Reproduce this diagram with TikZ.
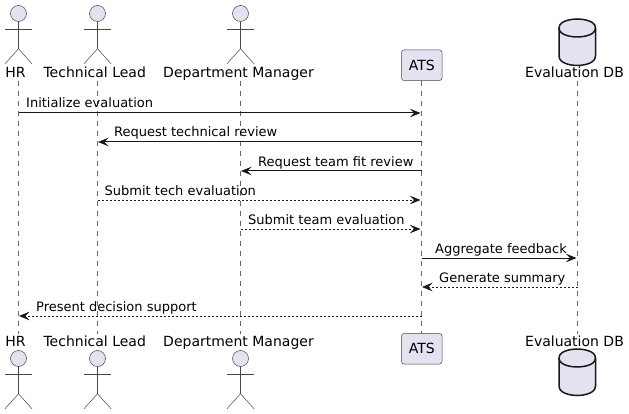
\documentclass[tikz,border=0pt]{standalone}
\usepackage{fontspec}
\setmainfont{DejaVu Sans}
\usetikzlibrary{arrows.meta}
\definecolor{partfill}{HTML}{E2E2F0}
\definecolor{ink}{HTML}{181818}
\tikzset{
  x=1pt,y=-1pt,
  lifeline/.style={draw=ink!65!white,line width=0.5pt,dash pattern=on 5pt off 5pt},
  figure/.style={draw=ink!80!white,line width=0.5pt},
  head/.style={circle,draw=ink!80!white,line width=0.5pt,fill=partfill,minimum size=16pt,inner sep=0pt},
  partname/.style={anchor=base,inner sep=0pt,font=\fontsize{14}{16}\selectfont,text=black},
  msgtext/.style={anchor=base west,inner sep=0pt,font=\fontsize{13}{15}\selectfont,text=black},
  atsbox/.style={draw=ink!80!white,line width=0.5pt,fill=partfill,rounded corners=2.5pt,minimum width=40.5pt,minimum height=30.5pt,inner sep=0pt,font=\fontsize{14}{16}\selectfont},
  syncmsg/.style={draw=ink,line width=1pt,-{Stealth[length=10.5pt,width=8.5pt,inset=4pt]}},
  replymsg/.style={draw=ink,line width=0.8pt,dash pattern=on 2pt off 2pt,-{Stealth[length=10.5pt,width=8.5pt,inset=4pt]}},
}
\newcommand{\stickman}[3]{% name, x, head y
  \node[head] (#1) at (#2,#3) {};
  \draw[figure] (#1.south) -- ++(0,27) coordinate (#1hip);
  \draw[figure] (#2-13.5,#3+15.5) -- (#2+13.5,#3+15.5);
  \draw[figure] (#1hip) -- ++(-13.5,15);
  \draw[figure] (#1hip) -- ++(13.5,15);
}
\newcommand{\dbcan}[2]{% x, top y
  \draw[ink,line width=1.5pt,fill=partfill] (#1-18.25,#2+9) .. controls (#1-18.25,#2) and (#1,#2) .. (#1,#2) .. controls (#1,#2) and (#1+18.25,#2) .. (#1+18.25,#2+9) -- (#1+18.25,#2+37) .. controls (#1+18.25,#2+46.5) and (#1,#2+46.5) .. (#1,#2+46.5) .. controls (#1,#2+46.5) and (#1-18.25,#2+46.5) .. (#1-18.25,#2+37) -- cycle;
  \draw[ink,line width=1.5pt] (#1-18.25,#2+9) .. controls (#1-18.25,#2+18) and (#1,#2+18) .. (#1,#2+18) .. controls (#1,#2+18) and (#1+18.25,#2+18) .. (#1+18.25,#2+9);
}
\begin{document}
\begin{tikzpicture}
\useasboundingbox (0,0) rectangle (629,414);
% lifelines
\foreach \n/\x in {hr/18.5,tl/97.5,dm/240.5,ats/421.5,db/577.5}{
  \coordinate (\n-top) at (\x,81);
  \coordinate (\n-bot) at (\x,333.5);
  \draw[lifeline] (\n-top) -- (\n-bot);
}
% top participants
\stickman{hrT}{18.5}{13.5}
\stickman{tlT}{97.5}{13.5}
\stickman{dmT}{240.5}{13.5}
\node[atsbox] (atsT) at (421.75,65.25) {ATS};
\dbcan{577.25}{19}
\node[partname] (hrTn) at (15.5,78) {HR};
\node[partname] (tlTn) at (94.7,78) {Technical Lead};
\node[partname] (dmTn) at (238.5,78) {Department Manager};
\node[partname] (dbTn) at (574.5,78) {Evaluation DB};
% bottom participants
\node[partname] (hrBn) at (15.5,346) {HR};
\node[partname] (tlBn) at (94.7,346) {Technical Lead};
\node[partname] (dmBn) at (238.5,346) {Department Manager};
\node[partname] (dbBn) at (574.5,346) {Evaluation DB};
\stickman{hrB}{18.5}{358.5}
\stickman{tlB}{97.5}{358.5}
\stickman{dmB}{240.5}{358.5}
\node[atsbox] (atsB) at (421.75,348.75) {ATS};
\dbcan{577.25}{349}
% messages
\foreach \n/\x in {hr/18.5,tl/97.5,dm/240.5,ats/421.5,db/577.5}{
  \foreach \i/\y in {1/113,2/142,3/171,4/200,5/229,6/258,7/287,8/316}{
    \coordinate (\n-m\i) at (\x,\y);
  }
}
\draw[syncmsg] (hr-m1) -- ([xshift=-1pt]ats-m1);
\node[msgtext] (t1) at (26,107.7) {Initialize evaluation};
\draw[syncmsg] (ats-m2) -- ([xshift=0.5pt]tl-m2);
\node[msgtext] (t2) at (114,136.7) {Request technical review};
\draw[syncmsg] (ats-m3) -- ([xshift=0.5pt]dm-m3);
\node[msgtext] (t3) at (258,166.3) {Request team fit review};
\draw[replymsg] (tl-m4) -- ([xshift=-1pt]ats-m4);
\node[msgtext] (t4) at (104.5,195.3) {Submit tech evaluation};
\draw[replymsg] (dm-m5) -- ([xshift=-1pt]ats-m5);
\node[msgtext] (t5) at (248,224.3) {Submit team evaluation};
\draw[syncmsg] (ats-m6) -- ([xshift=-1pt]db-m6);
\node[msgtext] (t6) at (435,253.3) {Aggregate feedback};
\draw[replymsg] (db-m7) -- ([xshift=0.5pt]ats-m7);
\node[msgtext] (t7) at (439,282.3) {Generate summary};
\draw[replymsg] (ats-m8) -- ([xshift=0.5pt]hr-m8);
\node[msgtext] (t8) at (36,311.3) {Present decision support};
\end{tikzpicture}
\end{document}
